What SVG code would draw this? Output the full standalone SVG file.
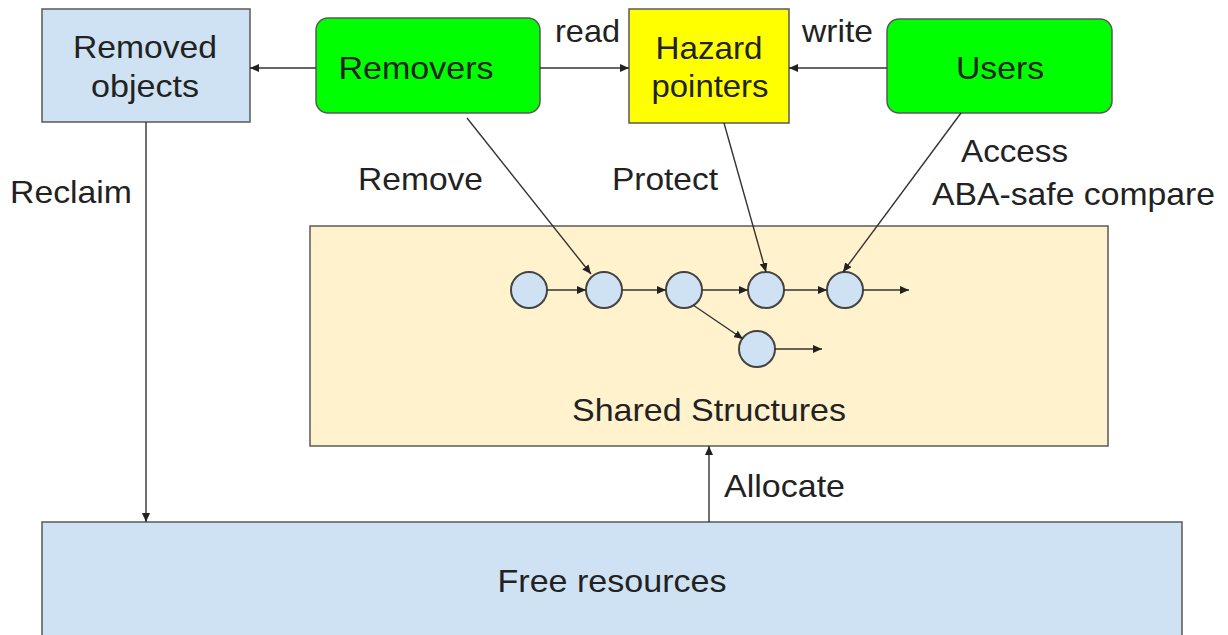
<svg xmlns="http://www.w3.org/2000/svg" width="1228" height="635" viewBox="0 0 1228 635">
<style>
  text { font-family: "Liberation Sans", Arial, sans-serif; font-size: 32px; fill: #222; }
  .mid { text-anchor: middle; }
  .box { stroke: #595959; stroke-width: 1.5; }
  .blue { fill: #cfe2f3; }
  .green { fill: #00ff00; }
  .yellow { fill: #ffff00; }
  .cream { fill: #fff2cc; }
  .conn { stroke: #333; stroke-width: 1.4; fill: none; }
  .node { fill: #cfe2f3; stroke: #444; stroke-width: 2; }
</style>
<defs>
  <marker id="arr" markerUnits="userSpaceOnUse" markerWidth="10" markerHeight="8" refX="9" refY="4" orient="auto">
    <path d="M0,0 L9,4 L0,8 z" fill="#222"/>
  </marker>
</defs>
<rect width="1228" height="635" fill="#fff"/>

<g id="shared-structures">
  <rect class="box cream" x="310" y="226" width="798" height="220"/>
  <text class="mid" x="709" y="421" textLength="274" lengthAdjust="spacingAndGlyphs">Shared Structures</text>
</g>

<g id="free-resources">
  <rect class="box blue" x="42" y="522" width="1140" height="130"/>
  <text class="mid" x="612" y="592" textLength="229" lengthAdjust="spacingAndGlyphs">Free resources</text>
</g>

<g id="removed-objects">
  <rect class="box blue" x="42" y="9" width="208" height="113"/>
  <text class="mid" x="145" y="58" textLength="144" lengthAdjust="spacingAndGlyphs">Removed</text>
  <text class="mid" x="145" y="97" textLength="108" lengthAdjust="spacingAndGlyphs">objects</text>
</g>

<g id="removers">
  <rect class="box green" x="316" y="18" width="224" height="95" rx="12"/>
  <text class="mid" x="416" y="79" textLength="155" lengthAdjust="spacingAndGlyphs">Removers</text>
</g>

<g id="hazard-pointers">
  <rect class="box yellow" x="629" y="9" width="160" height="114"/>
  <text class="mid" x="709" y="59" textLength="107" lengthAdjust="spacingAndGlyphs">Hazard</text>
  <text class="mid" x="710" y="97" textLength="117" lengthAdjust="spacingAndGlyphs">pointers</text>
</g>

<g id="users">
  <rect class="box green" x="887" y="19" width="225" height="94" rx="12"/>
  <text class="mid" x="1000" y="79" textLength="88" lengthAdjust="spacingAndGlyphs">Users</text>
</g>

<g id="list-nodes">
  <circle id="n1" class="node" cx="529" cy="290" r="18"/>
  <circle id="n2" class="node" cx="604" cy="290" r="18"/>
  <circle id="n3" class="node" cx="684" cy="290" r="18"/>
  <circle id="n4" class="node" cx="766" cy="290" r="18"/>
  <circle id="n5" class="node" cx="845" cy="290" r="18"/>
  <circle id="n6" class="node" cx="757" cy="349" r="18"/>
</g>

<g id="connectors">
  <line class="conn" x1="316" y1="68" x2="250" y2="68" marker-end="url(#arr)"/>
  <line class="conn" x1="540" y1="68" x2="629" y2="68" marker-end="url(#arr)"/>
  <line class="conn" x1="887" y1="68" x2="789" y2="68" marker-end="url(#arr)"/>
  <line class="conn" x1="146" y1="122" x2="146" y2="522" marker-end="url(#arr)"/>
  <line class="conn" x1="709" y1="522" x2="709" y2="446" marker-end="url(#arr)"/>
  <line class="conn" x1="467" y1="118" x2="591" y2="274" marker-end="url(#arr)"/>
  <line class="conn" x1="724" y1="123" x2="766" y2="272" marker-end="url(#arr)"/>
  <line class="conn" x1="961" y1="113" x2="843" y2="272" marker-end="url(#arr)"/>
  <line class="conn" x1="547" y1="290" x2="586" y2="290" marker-end="url(#arr)"/>
  <line class="conn" x1="622" y1="290" x2="666" y2="290" marker-end="url(#arr)"/>
  <line class="conn" x1="702" y1="290" x2="748" y2="290" marker-end="url(#arr)"/>
  <line class="conn" x1="784" y1="290" x2="827" y2="290" marker-end="url(#arr)"/>
  <line class="conn" x1="863" y1="290" x2="909" y2="290" marker-end="url(#arr)"/>
  <line class="conn" x1="775" y1="349" x2="822" y2="349" marker-end="url(#arr)"/>
  <line class="conn" x1="693" y1="305" x2="743" y2="339" marker-end="url(#arr)"/>
</g>

<g id="labels">
  <text x="555" y="42" textLength="65" lengthAdjust="spacingAndGlyphs">read</text>
  <text x="802" y="42" textLength="71" lengthAdjust="spacingAndGlyphs">write</text>
  <text x="10" y="203" textLength="122" lengthAdjust="spacingAndGlyphs">Reclaim</text>
  <text x="358" y="190" textLength="125" lengthAdjust="spacingAndGlyphs">Remove</text>
  <text x="612" y="190" textLength="106" lengthAdjust="spacingAndGlyphs">Protect</text>
  <text x="961" y="162" textLength="107" lengthAdjust="spacingAndGlyphs">Access</text>
  <text x="932" y="205" textLength="283" lengthAdjust="spacingAndGlyphs">ABA-safe compare</text>
  <text x="724" y="497" textLength="121" lengthAdjust="spacingAndGlyphs">Allocate</text>
</g>
</svg>
